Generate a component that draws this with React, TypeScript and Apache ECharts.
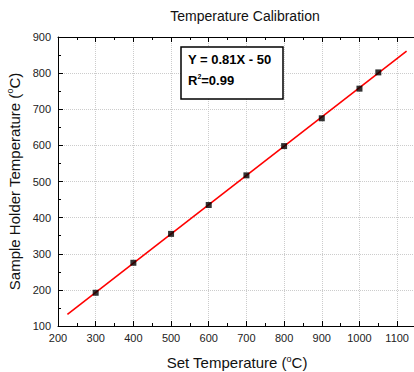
import React, { useEffect, useRef } from "react";
import * as echarts from "echarts";

const setTemps = [300, 400, 500, 600, 700, 800, 900, 1000, 1050];
const holderTemps = [192, 275, 355, 435, 517, 598, 675, 757, 802];
const fitLine = [
  [225, 132],
  [1125, 861],
];
const titleText = "Temperature Calibration";
const equationText = "Y = 0.81X - 50";

const FONT = "'Liberation Sans', Arial, sans-serif";

export default function App() {
  const ref = useRef<HTMLDivElement>(null);
  useEffect(() => {
    document.body.style.margin = "0";
    const chart = echarts.init(ref.current!, null, { renderer: "svg" });
    const axisCommon = {
      type: "value" as const,
      axisLine: { show: true, onZero: false, lineStyle: { color: "#000", width: 1 } },
      axisTick: { show: true, inside: true, length: 5, lineStyle: { color: "#000" } },
      minorTick: { show: true, splitNumber: 2, length: 3, lineStyle: { color: "#000" } },
    };
    const labelStyle = { color: "#222", fontSize: 11, fontFamily: FONT };
    const supRich = {
      s: { fontSize: 9, verticalAlign: "top", padding: [0, 0, 8, 0], fontFamily: FONT, color: "#111" },
    };
    chart.setOption({
      animation: false,
      backgroundColor: "#fff",
      title: {
        text: titleText,
        left: 240,
        top: 4,
        textAlign: "center",
        textStyle: { fontSize: 14, fontWeight: "normal", color: "#111", fontFamily: FONT },
      },
      grid: { left: 58, right: -2, top: 37, bottom: 46, containLabel: false, outerBoundsMode: "none" },
      xAxis: [
        {
          ...axisCommon,
          min: 200,
          max: 1150,
          interval: 100,
          position: "bottom",
          axisLabel: { ...labelStyle, margin: 6, showMaxLabel: false, formatter: (v: number) => String(v) },
          splitLine: { show: true, lineStyle: { color: "#ccc", type: "dotted" } },
          name: "Set Temperature ({s|o}C)",
          nameLocation: "middle",
          nameGap: 28,
          nameTextStyle: { fontSize: 15, color: "#111", fontFamily: FONT, rich: supRich },
        },
        {
          ...axisCommon,
          min: 200,
          max: 1150,
          interval: 100,
          position: "top",
          axisLabel: { show: false },
          splitLine: { show: false },
        },
      ],
      yAxis: [
        {
          ...axisCommon,
          min: 100,
          max: 900,
          interval: 100,
          position: "left",
          axisLabel: { ...labelStyle, margin: 7 },
          splitLine: { show: true, lineStyle: { color: "#ccc", type: "dotted" } },
          name: "Sample Holder Temperature ({s|o}C)",
          nameLocation: "middle",
          nameGap: 32,
          nameTextStyle: { fontSize: 15, color: "#111", fontFamily: FONT, rich: supRich },
        },
      ],
      series: [
        {
          type: "line",
          data: fitLine,
          symbol: "none",
          lineStyle: { color: "#ff0000", width: 1.6 },
          z: 2,
        },
        {
          type: "scatter",
          data: setTemps.map((x, i) => [x, holderTemps[i]]),
          symbol: "rect",
          symbolSize: 6,
          itemStyle: { color: "#000" },
          z: 3,
        },
      ],
      graphic: [
        {
          type: "rect",
          shape: { x: 181, y: 47, width: 102, height: 52 },
          style: { fill: "#fff", stroke: "#000", lineWidth: 1.5 },
          z: 10,
        },
        {
          type: "text",
          x: 188,
          y: 53,
          style: {
            text: equationText,
            fontSize: 13,
            fontWeight: "bold",
            fontFamily: FONT,
            fill: "#000",
          },
          z: 11,
        },
        {
          type: "text",
          x: 188,
          y: 73,
          style: {
            text: "R{s|2}=0.99",
            fontSize: 13,
            fontWeight: "bold",
            fontFamily: FONT,
            fill: "#000",
            rich: {
              s: { fontSize: 7, fontWeight: "bold", verticalAlign: "top", padding: [0, 0, 8, 0], fontFamily: FONT },
            },
          },
          z: 11,
        },
      ],
    });
    return () => chart.dispose();
  }, []);
  return <div ref={ref} style={{ width: 414, height: 372 }} />;
}
